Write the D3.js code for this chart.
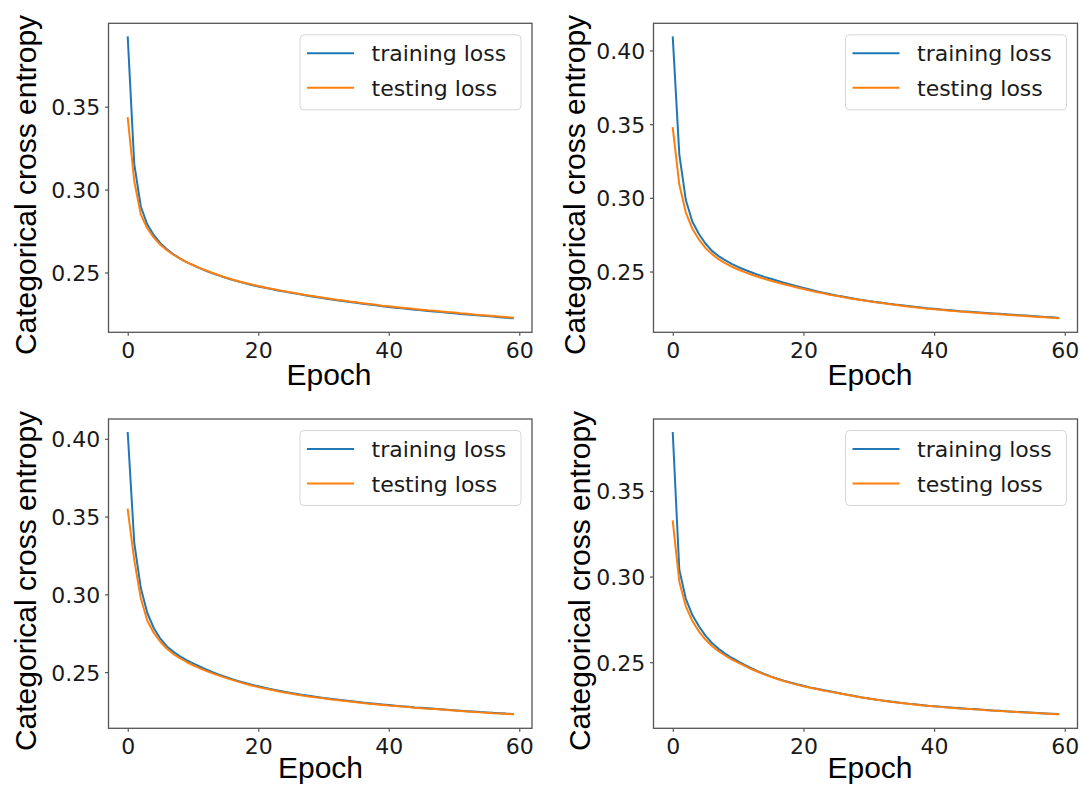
<!DOCTYPE html>
<html><head><meta charset="utf-8">
<script src="https://cdn.jsdelivr.net/npm/d3@7"></script>
<style>body{margin:0;background:#fff}svg{display:block}</style>
</head><body><svg id="c" width="1080" height="785"></svg>
<script>
// ---------- data ----------
const epochs = d3.range(0, 60);
const xTicks = [0, 20, 40, 60];
const yTicksA = [0.25, 0.30, 0.35];
const yTicksB = [0.25, 0.30, 0.35, 0.40];
const seriesNames = ["training loss", "testing loss"];
const xLabel = "Epoch";
const yLabel = "Categorical cross entropy";

const train1 = [0.3918,0.3153,0.2898,0.2789,0.2725,0.2677,0.2640,0.2610,0.2585,0.2563,
 0.2544,0.2526,0.2510,0.2495,0.2481,0.2468,0.2456,0.2445,0.2435,0.2425,
 0.2416,0.2408,0.2400,0.2392,0.2385,0.2378,0.2371,0.2364,0.2357,0.2351,
 0.2345,0.2339,0.2333,0.2328,0.2322,0.2317,0.2312,0.2307,0.2302,0.2297,
 0.2292,0.2288,0.2284,0.2280,0.2276,0.2272,0.2268,0.2265,0.2261,0.2257,
 0.2254,0.2250,0.2247,0.2243,0.2240,0.2237,0.2234,0.2230,0.2227,0.2224];
const test1 = [0.3431,0.3050,0.2850,0.2765,0.2710,0.2667,0.2634,0.2607,0.2584,0.2563,
 0.2545,0.2528,0.2512,0.2497,0.2483,0.2470,0.2458,0.2447,0.2437,0.2427,
 0.2418,0.2410,0.2402,0.2394,0.2387,0.2380,0.2373,0.2366,0.2360,0.2354,
 0.2348,0.2342,0.2336,0.2331,0.2325,0.2320,0.2315,0.2310,0.2305,0.2300,
 0.2296,0.2292,0.2288,0.2284,0.2280,0.2276,0.2272,0.2269,0.2265,0.2261,
 0.2258,0.2254,0.2251,0.2247,0.2244,0.2241,0.2238,0.2234,0.2231,0.2228];
const train2 = [0.4089,0.3295,0.2985,0.2838,0.2755,0.2690,0.2640,0.2605,0.2577,0.2552,
 0.2531,0.2512,0.2495,0.2479,0.2464,0.2451,0.2438,0.2425,0.2413,0.2401,
 0.2389,0.2378,0.2367,0.2357,0.2347,0.2338,0.2330,0.2322,0.2314,0.2307,
 0.2300,0.2294,0.2288,0.2282,0.2276,0.2271,0.2266,0.2261,0.2256,0.2251,
 0.2247,0.2243,0.2239,0.2235,0.2231,0.2228,0.2225,0.2222,0.2219,0.2216,
 0.2213,0.2210,0.2207,0.2204,0.2201,0.2198,0.2195,0.2192,0.2189,0.2186];
const test2 = [0.3473,0.3090,0.2900,0.2790,0.2718,0.2660,0.2618,0.2584,0.2557,0.2534,
 0.2514,0.2496,0.2480,0.2465,0.2451,0.2438,0.2426,0.2414,0.2403,0.2392,
 0.2381,0.2371,0.2361,0.2352,0.2343,0.2335,0.2327,0.2319,0.2312,0.2305,
 0.2298,0.2292,0.2286,0.2280,0.2274,0.2268,0.2263,0.2258,0.2253,0.2248,
 0.2244,0.2240,0.2236,0.2232,0.2228,0.2225,0.2222,0.2219,0.2216,0.2213,
 0.2210,0.2207,0.2204,0.2201,0.2198,0.2195,0.2192,0.2189,0.2186,0.2183];
const train3 = [0.4037,0.3330,0.3040,0.2880,0.2782,0.2715,0.2665,0.2630,0.2601,0.2577,
 0.2556,0.2536,0.2518,0.2500,0.2484,0.2469,0.2455,0.2442,0.2430,0.2419,
 0.2409,0.2399,0.2390,0.2381,0.2373,0.2366,0.2359,0.2352,0.2346,0.2340,
 0.2334,0.2329,0.2324,0.2319,0.2314,0.2309,0.2304,0.2300,0.2296,0.2292,
 0.2288,0.2284,0.2280,0.2277,0.2273,0.2270,0.2267,0.2264,0.2261,0.2258,
 0.2255,0.2252,0.2249,0.2246,0.2243,0.2241,0.2238,0.2236,0.2233,0.2231];
const test3 = [0.3544,0.3220,0.2975,0.2830,0.2752,0.2695,0.2650,0.2616,0.2589,0.2565,
 0.2544,0.2525,0.2508,0.2492,0.2477,0.2463,0.2450,0.2437,0.2425,0.2414,
 0.2404,0.2395,0.2386,0.2377,0.2369,0.2362,0.2355,0.2348,0.2342,0.2336,
 0.2331,0.2326,0.2321,0.2316,0.2311,0.2306,0.2301,0.2297,0.2293,0.2289,
 0.2285,0.2282,0.2278,0.2275,0.2271,0.2268,0.2265,0.2262,0.2259,0.2256,
 0.2253,0.2250,0.2247,0.2244,0.2241,0.2239,0.2236,0.2234,0.2231,0.2229];
const train4 = [0.3838,0.3040,0.2870,0.2775,0.2710,0.2655,0.2612,0.2578,0.2550,0.2526,
 0.2505,0.2484,0.2465,0.2447,0.2431,0.2417,0.2404,0.2392,0.2381,0.2371,
 0.2362,0.2353,0.2345,0.2337,0.2330,0.2323,0.2315,0.2308,0.2301,0.2294,
 0.2288,0.2282,0.2277,0.2272,0.2267,0.2262,0.2258,0.2254,0.2250,0.2246,
 0.2243,0.2240,0.2237,0.2234,0.2231,0.2228,0.2226,0.2223,0.2221,0.2218,
 0.2216,0.2213,0.2211,0.2209,0.2207,0.2205,0.2203,0.2201,0.2199,0.2197];
const test4 = [0.3322,0.2970,0.2826,0.2740,0.2680,0.2632,0.2595,0.2564,0.2539,0.2517,
 0.2497,0.2478,0.2460,0.2444,0.2429,0.2415,0.2402,0.2390,0.2379,0.2369,
 0.2360,0.2351,0.2343,0.2335,0.2328,0.2321,0.2314,0.2307,0.2300,0.2294,
 0.2288,0.2282,0.2276,0.2271,0.2266,0.2262,0.2257,0.2253,0.2249,0.2246,
 0.2242,0.2239,0.2236,0.2233,0.2230,0.2228,0.2225,0.2223,0.2220,0.2218,
 0.2215,0.2213,0.2211,0.2208,0.2206,0.2204,0.2202,0.2200,0.2198,0.2196];

const panelData = [
  {train: train1, test: test1, yTicks: yTicksA},
  {train: train2, test: test2, yTicks: yTicksB},
  {train: train3, test: test3, yTicks: yTicksB},
  {train: train4, test: test4, yTicks: yTicksA}
];

// ---------- layout ----------
const layout = [
  {L:108.5, R:532,    T:23.3, B:332.3, ylx:36,  yly:185, xlx:329,   xly:385},
  {L:653.5, R:1077.5, T:23.3, B:332.3, ylx:585, yly:185, xlx:870,   xly:385},
  {L:108.5, R:532,    T:419,  B:728.3, ylx:36,  yly:581, xlx:320.5, xly:778},
  {L:653.5, R:1077.5, T:419,  B:728.3, ylx:590, yly:581, xlx:870,   xly:778}
];
const colors = ["#1f77b4", "#ff7f0e"];
const tickFont = "'DejaVu Sans', sans-serif";
const labelFont = "'Liberation Sans', Arial, sans-serif";

const svg = d3.select("#c");

function padExtent(ext, f) {
  const p = (ext[1] - ext[0]) * f;
  return [ext[0] - p, ext[1] + p];
}

panelData.forEach((pd, i) => {
  const lo = layout[i];
  const g = svg.append("g");
  const x = d3.scaleLinear().domain(padExtent(d3.extent(epochs), 0.05)).range([lo.L, lo.R]);
  const y = d3.scaleLinear().domain(padExtent(d3.extent(pd.train.concat(pd.test)), 0.05)).range([lo.B, lo.T]);

  // lines
  const line = d3.line().x((d, j) => x(epochs[j])).y(d => y(d));
  [pd.train, pd.test].forEach((s, k) => {
    g.append("path").datum(s).attr("d", line)
      .attr("fill", "none").attr("stroke", colors[k]).attr("stroke-width", 2)
      .attr("stroke-linejoin", "round").attr("stroke-linecap", "square");
  });

  // axes
  const xa = g.append("g").attr("transform", `translate(0,${lo.B})`)
    .call(d3.axisBottom(x).tickValues(xTicks).tickSize(3.5).tickPadding(6.4).tickFormat(d3.format("d")));
  const ya = g.append("g").attr("transform", `translate(${lo.L},0)`)
    .call(d3.axisLeft(y).tickValues(pd.yTicks).tickSize(3.5).tickPadding(4.8).tickFormat(d3.format(".2f")));
  [xa, ya].forEach(a => {
    a.select(".domain").remove();
    a.selectAll(".tick line").attr("stroke", "#555").attr("stroke-width", 1.2);
    a.selectAll(".tick text").attr("fill", "#1a1a1a")
      .style("font-family", tickFont).style("font-size", "22px");
  });
  ya.selectAll(".tick text").attr("dy", "0.36em");

  // spines
  g.append("rect").attr("x", lo.L).attr("y", lo.T)
    .attr("width", lo.R - lo.L).attr("height", lo.B - lo.T)
    .attr("fill", "none").attr("stroke", "#555").attr("stroke-width", 1.3);

  // axis labels
  g.append("text").attr("x", lo.xlx).attr("y", lo.xly).attr("text-anchor", "middle")
    .style("font-family", labelFont).style("font-size", "30px").attr("fill", "#000").text(xLabel);
  g.append("text").attr("transform", `translate(${lo.ylx},${lo.yly}) rotate(-90)`)
    .attr("text-anchor", "middle")
    .style("font-family", labelFont).style("font-size", "30px").attr("fill", "#000").text(yLabel);

  // legend
  const lw = 221, lh = 75;
  const lx = lo.R - 11 - lw, ly = lo.T + 11.5;
  const lg = g.append("g");
  lg.append("rect").attr("x", lx).attr("y", ly).attr("width", lw).attr("height", lh)
    .attr("rx", 4).attr("fill", "#fff").attr("fill-opacity", 0.8)
    .attr("stroke", "#d6d6d6").attr("stroke-width", 1);
  seriesNames.forEach((nm, k) => {
    const cy = ly + 18.5 + k * 34.5;
    lg.append("line").attr("x1", lx + 7).attr("x2", lx + 54).attr("y1", cy).attr("y2", cy)
      .attr("stroke", colors[k]).attr("stroke-width", 2);
    lg.append("text").attr("x", lx + 71.5).attr("y", cy + 8)
      .style("font-family", tickFont).style("font-size", "22px").attr("fill", "#1a1a1a").text(nm);
  });
});
</script></body></html>
